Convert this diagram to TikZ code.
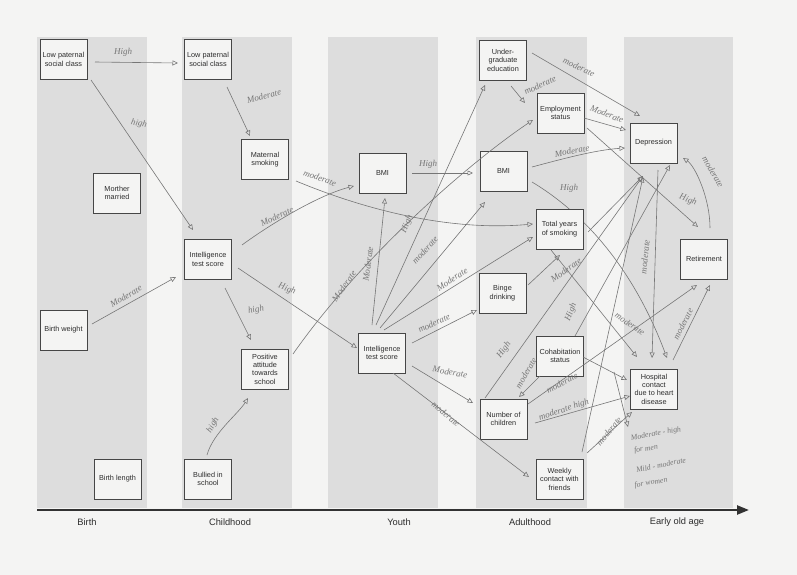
\documentclass[tikz,border=0pt]{standalone}
\usepackage{fontspec}
\setmainfont{Liberation Sans}
\newfontfamily\handfont{Liberation Serif}
\usetikzlibrary{arrows.meta,calc}

\definecolor{paper}{RGB}{244,244,243}
\definecolor{band}{RGB}{221,221,221}
\definecolor{boxline}{RGB}{70,70,70}
\definecolor{boxtext}{RGB}{45,45,45}
\definecolor{pencil}{RGB}{118,118,118}
\definecolor{axisline}{RGB}{50,50,50}

\pgfdeclarelayer{sheet}
\pgfdeclarelayer{underbox}
\pgfsetlayers{sheet,underbox,main}

\begin{document}
\begin{tikzpicture}[x=1pt,y=-1pt,
  box/.style={draw=boxline, fill=paper, line width=0.8pt, minimum width=47pt,
    minimum height=40pt, inner sep=0pt, align=center,
    font=\fontsize{7.3}{8.4}\selectfont, text=boxtext},
  hand/.style={draw=pencil, line width=0.6pt,
    -{Triangle[open,length=5.5pt,width=5pt]}},
  lab/.style={text=pencil, font=\handfont\itshape\fontsize{9}{9}\selectfont, inner sep=0pt},
  smalllab/.style={text=pencil, font=\handfont\itshape\fontsize{7.8}{7.8}\selectfont, inner sep=0pt},
  age/.style={font=\fontsize{9.3}{10}\selectfont, text=boxtext},
  axis/.style={draw=axisline, line width=2.3pt, -{Triangle[length=12pt,width=9pt]}}
]
% page and time bands
\useasboundingbox (0,0) rectangle (797,575);
\begin{pgfonlayer}{sheet}
\fill[paper] (0,0) rectangle (797,575);
\fill[band] (37,37) rectangle (147,508);
\fill[band] (182,37) rectangle (292,508);
\fill[band] (328,37) rectangle (438,508);
\fill[band] (476,37) rectangle (587,508);
\fill[band] (624,37) rectangle (733,508);
\end{pgfonlayer}

% time axis
\coordinate (axisStart) at (37,510);
\coordinate (axisEnd) at (749,510);
\draw[axis] (axisStart) -- (axisEnd);
\node[age] (tBirth) at (87,522) {Birth};
\node[age] (tChild) at (230,522) {Childhood};
\node[age] (tYouth) at (399,522) {Youth};
\node[age] (tAdult) at (530,522) {Adulthood};
\node[age] (tOld) at (677,522) {Early old age};

% birth
\node[box] (bLow) at (63.5,59.5) {Low paternal\\social class};
\node[box] (bMar) at (117,193) {Morther\\married};
\node[box] (bWt) at (63.5,330) {Birth weight};
\node[box] (bLen) at (117.5,479) {Birth length};
% childhood
\node[box] (cLow) at (208,59.5) {Low paternal\\social class};
\node[box] (cSmk) at (265,159.5) {Maternal\\smoking};
\node[box] (cInt) at (208,259.5) {Intelligence\\test score};
\node[box] (cAtt) at (265,369) {Positive\\attitude\\towards\\school};
\node[box] (cBul) at (208,479) {Bullied in\\school};
% youth
\node[box] (yBmi) at (382.5,173) {BMI};
\node[box] (yInt) at (382,353) {Intelligence\\test score};
% adulthood
\node[box] (aEdu) at (503,60) {Under-\\graduate\\education};
\node[box] (aEmp) at (560.5,113) {Employment\\status};
\node[box] (aBmi) at (503.5,171) {BMI};
\node[box] (aSmk) at (559.5,229) {Total years\\of smoking};
\node[box] (aBin) at (502.5,293) {Binge\\drinking};
\node[box] (aCoh) at (560,356) {Cohabitation\\status};
\node[box] (aKid) at (503.5,419) {Number of\\children};
\node[box] (aFri) at (559.5,479) {Weekly\\contact with\\friends};
% early old age
\node[box] (oDep) at (653.5,143) {Depression};
\node[box] (oRet) at (704,259) {Retirement};
\node[box] (oHos) at (654,389) {Hospital\\contact\\due to heart\\disease};

% pencilled links from birth and childhood
\draw[hand] ($(bLow)+(31.5,2.5)$) -- ($(cLow)+(-30,3.5)$);
\node[lab] (l1) at (123,52) {High};
\draw[hand] ($(bLow)+(27.5,20.5)$) -- ($(cInt)+(-15,-29.5)$);
\node[lab, rotate=-12] (l2) at (139,124) {high};
\draw[hand] ($(cLow)+(19,27.5)$) -- ($(cSmk)+(-15,-23.5)$);
\node[lab, rotate=15] (l3) at (264,96) {Moderate};
\draw[hand] ($(bWt)+(28.5,-6)$) -- ($(cInt)+(-32,17.5)$);
\node[lab, rotate=30] (l4) at (126,296) {Moderate};
\draw[hand] ($(cInt)+(17,28.5)$) -- ($(cAtt)+(-14,-29)$);
\node[lab, rotate=10] (l5) at (256,310) {high};
\draw[hand] ($(cInt)+(34,-14.5)$) .. controls +(30,-22) and +(-35,9) .. ($(yBmi)+(-28.5,13)$);
\node[lab, rotate=25] (l6) at (277,216) {Moderate};
\draw[hand] ($(cSmk)+(31,21.5)$) .. controls +(60,25) and +(-90,8) .. ($(aSmk)+(-26.5,-5)$);
\node[lab, rotate=-20] (l7) at (320,178) {moderate};
\draw[hand] ($(cInt)+(30,8.5)$) -- ($(yInt)+(-25,-5)$);
\node[lab, rotate=-20] (l8) at (287,289) {High};
\draw[hand] ($(cBul)+(-1,-24)$) .. controls +(6,-22) and +(-10,16) .. ($(cAtt)+(-17,29)$);
\node[lab, rotate=60] (l9) at (213,425) {high};
\draw[hand] ($(cAtt)+(28,-15)$) .. controls +(70,-100) and +(-60,40) .. ($(aEmp)+(-27.5,7)$);
\node[lab, rotate=55] (l10) at (344,286) {Moderate};

% pencilled links from youth
\draw[hand] ($(yBmi)+(29.5,0)$) -- ($(aBmi)+(-30.5,2)$);
\node[lab] (l11) at (428,164) {High};
\draw[hand] ($(yInt)+(-10,-28)$) -- ($(yBmi)+(2.5,25)$);
\node[lab, rotate=82] (l12) at (368,264) {Moderate};
\draw[hand] ($(yInt)+(-6,-28)$) -- ($(aEdu)+(-18,25)$);
\node[lab, rotate=68] (l13) at (407,224) {High};
\draw[hand] ($(yInt)+(-2,-25)$) -- ($(aBmi)+(-18.5,31)$);
\node[lab, rotate=48] (l14) at (425,250) {moderate};
\draw[hand] ($(yInt)+(2,-23)$) -- ($(aSmk)+(-26.5,8)$);
\node[lab, rotate=33] (l15) at (452,279) {Moderate};
\draw[hand] ($(yInt)+(30,-10)$) -- ($(aBin)+(-25.5,17)$);
\node[lab, rotate=25] (l16) at (434,323) {moderate};
\draw[hand] ($(yInt)+(30,13)$) -- ($(aKid)+(-30.5,-16)$);
\node[lab, rotate=-10] (l17) at (450,372) {Moderate};
\draw[hand] ($(yInt)+(11,20)$) -- ($(aFri)+(-30.5,-2)$);
\node[lab, rotate=-40] (l18) at (446,414) {moderate};

% pencilled links from adulthood
\draw[hand] ($(aEdu)+(29,-7)$) -- ($(oDep)+(-13.5,-27)$);
\node[lab, rotate=-25] (l19) at (579,67) {moderate};
\draw[hand] ($(aEdu)+(8,26)$) -- ($(aEmp)+(-35.5,-10)$);
\node[lab, rotate=25] (l20) at (540,85) {moderate};
\draw[hand] ($(aEmp)+(23.5,5)$) -- ($(oDep)+(-27.5,-13)$);
\node[lab, rotate=-22] (l21) at (607,114) {Moderate};
\draw[hand] ($(aEmp)+(26.5,15)$) -- ($(oRet)+(-6,-32)$);
\node[lab, rotate=-20] (l22) at (688,200) {High};
\draw[hand] ($(aBmi)+(28.5,-4)$) .. controls +(30,-8) and +(-30,2) .. ($(oDep)+(-28.5,5)$);
\node[lab, rotate=10] (l23) at (572,151) {Moderate};
% this one runs behind the smoking box on its way down
\begin{pgfonlayer}{underbox}
\draw[hand] ($(aBmi)+(28.5,11)$) .. controls +(60,36) and +(-30,-80) .. ($(oHos)+(13,-31)$);
\end{pgfonlayer}
\node[lab] (l24) at (569,188) {High};
\draw[hand] ($(oRet)+(6,-31)$) .. controls +(0,-30) and +(12,8) .. ($(oDep)+(29.5,15)$);
\node[lab, rotate=-60] (l25) at (713,172) {moderate};
\draw[hand] ($(aBin)+(25.5,-8)$) -- ($(aSmk)+(0.5,26)$);
\node[lab, rotate=35] (l26) at (566,270) {Moderate};
\draw[hand] ($(aSmk)+(28.5,3)$) -- ($(oDep)+(-10.5,33)$);
\draw[hand] ($(aSmk)+(-8.5,21)$) -- ($(oHos)+(-17,-32)$);
\node[lab, rotate=-35] (l27) at (630,324) {moderate};
\draw[hand] ($(aCoh)+(23,1)$) -- ($(oHos)+(-27,-9)$);
\draw[hand] ($(aCoh)+(-20,20)$) -- ($(aKid)+(15.5,-22)$);
\node[lab, rotate=60] (l28) at (526,373) {moderate};
\draw[hand] ($(aCoh)+(15,-20)$) -- ($(oDep)+(16.5,22)$);
\node[lab, rotate=68] (l29) at (571,312) {High};
\draw[hand] ($(aKid)+(-18.5,-21)$) -- ($(oDep)+(-10.5,33)$);
\node[lab, rotate=55] (l30) at (504,350) {High};
\draw[hand] ($(aKid)+(24.5,-15)$) -- ($(oRet)+(-7,26)$);
\node[lab, rotate=28] (l31) at (562,383) {moderate};
\draw[hand] ($(aKid)+(31.5,4)$) -- ($(oHos)+(-24,7)$);
\node[lab, rotate=18] (l32) at (564,410) {moderate high};
\draw[hand] ($(aFri)+(27.5,-26)$) -- ($(oHos)+(-22,23)$);
\node[lab, rotate=50] (l33) at (609,431) {moderate};
\draw[hand] ($(aFri)+(22.5,-27)$) -- ($(oDep)+(-10.5,34)$);

% pencilled links from early old age
\draw[hand] ($(oDep)+(4.5,27)$) -- ($(oHos)+(-2,-31)$);
\node[lab, rotate=84] (l34) at (645,257) {moderate};
\draw[hand] ($(oHos)+(19,-29)$) -- ($(oRet)+(6,26)$);
\node[lab, rotate=63] (l35) at (683,324) {moderate};

% note under the hospital box
\coordinate (noteTop) at (614,372);
\coordinate (noteTip) at (628,427);
\draw[hand] (noteTop) -- (noteTip);
\node[smalllab, rotate=10] (n1) at (656,434) {Moderate - high};
\node[smalllab, rotate=10] (n2) at (646,449) {for men};
\node[smalllab, rotate=12] (n3) at (661,465) {Mild - moderate};
\node[smalllab, rotate=10] (n4) at (651,483) {for women};
\end{tikzpicture}
\end{document}
